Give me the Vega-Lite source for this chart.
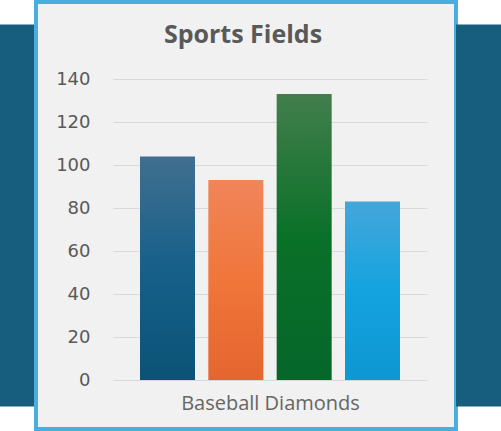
{
  "$schema": "https://vega.github.io/schema/vega-lite/v6.json",
  "background": "#ffffff",
  "padding": 0,
  "spacing": 0,
  "center": true,
  "bounds": "flush",
  "config": {
    "font": "Open Sans",
    "view": {"stroke": null}
  },
  "datasets": {
    "fields": [
      {"series": "Series 1", "fields": 104},
      {"series": "Series 2", "fields": 93},
      {"series": "Series 3", "fields": 133},
      {"series": "Series 4", "fields": 83}
    ]
  },
  "hconcat": [
    {
      "width": 36,
      "height": 382,
      "view": {"fill": "#175E7E", "stroke": null},
      "data": {"values": []},
      "mark": "point"
    },
    {
      "width": 420,
      "height": 427,
      "view": {"fill": "#F1F1F1", "stroke": "#4AADDD", "strokeWidth": 4},
      "title": {
        "text": "Sports Fields",
        "fontSize": 25,
        "fontWeight": "bold",
        "color": "#595959",
        "anchor": "middle",
        "frame": "group",
        "baseline": "alphabetic",
        "offset": -66,
        "dx": -3
      },
      "data": {"name": "fields"},
      "encoding": {
        "x": {
          "field": "series",
          "type": "nominal",
          "sort": null,
          "scale": {"range": [77, 391], "paddingInner": 0.195, "paddingOuter": 0.395},
          "axis": {
            "title": "Baseball Diamonds",
            "labels": false,
            "ticks": false,
            "domain": false,
            "grid": false,
            "offset": -36,
            "titlePadding": 0,
            "titleFontSize": 20,
            "titleFontWeight": "normal",
            "titleColor": "#666666"
          }
        },
        "y": {
          "field": "fields",
          "type": "quantitative",
          "scale": {"domain": [0, 140], "nice": false, "range": [378, 77]},
          "axis": {
            "title": null,
            "values": [0, 20, 40, 60, 80, 100, 120, 140],
            "domain": false,
            "ticks": false,
            "tickSize": 0,
            "offset": -54,
            "labelPadding": 0,
            "labelFont": "DejaVu Sans",
            "labelFontSize": 18,
            "labelColor": "#595959",
            "gridColor": "#D9D9D9",
            "gridWidth": 1.2
          }
        }
      },
      "layer": [
        {
          "transform": [{"filter": "datum.series == 'Series 1'"}],
          "mark": {"type": "bar", "color": {"gradient": "linear", "x1": 0, "y1": 0, "x2": 0, "y2": 1,
            "stops": [{"offset": 0, "color": "#416F8F"}, {"offset": 0.5, "color": "#16608A"}, {"offset": 1, "color": "#0B5275"}]}}
        },
        {
          "transform": [{"filter": "datum.series == 'Series 2'"}],
          "mark": {"type": "bar", "color": {"gradient": "linear", "x1": 0, "y1": 0, "x2": 0, "y2": 1,
            "stops": [{"offset": 0, "color": "#F0855A"}, {"offset": 0.5, "color": "#F0763A"}, {"offset": 1, "color": "#E5652F"}]}}
        },
        {
          "transform": [{"filter": "datum.series == 'Series 3'"}],
          "mark": {"type": "bar", "color": {"gradient": "linear", "x1": 0, "y1": 0, "x2": 0, "y2": 1,
            "stops": [{"offset": 0, "color": "#427E4C"}, {"offset": 0.5, "color": "#0A7128"}, {"offset": 1, "color": "#05662A"}]}}
        },
        {
          "transform": [{"filter": "datum.series == 'Series 4'"}],
          "mark": {"type": "bar", "color": {"gradient": "linear", "x1": 0, "y1": 0, "x2": 0, "y2": 1,
            "stops": [{"offset": 0, "color": "#44A7DB"}, {"offset": 0.5, "color": "#14A3DF"}, {"offset": 1, "color": "#0E97D2"}]}}
        }
      ]
    },
    {
      "width": 45,
      "height": 382,
      "view": {"fill": "#175E7E", "stroke": null},
      "data": {"values": []},
      "mark": "point"
    }
  ]
}
